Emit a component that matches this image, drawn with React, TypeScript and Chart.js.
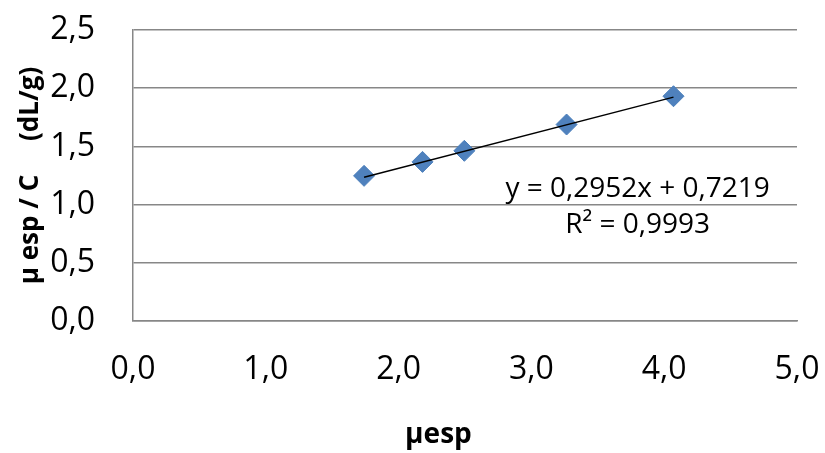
import React, { useEffect, useRef } from "react";
import { Chart, registerables } from "chart.js";

Chart.register(...registerables);

// ---- data ----
const xValues = [1.74, 2.18, 2.495, 3.265, 4.07];
const yValues = [1.247, 1.367, 1.462, 1.688, 1.931];
const trendSlope = 0.2952;
const trendIntercept = 0.7219;
const equationLabel = "y = 0,2952x + 0,7219";
const r2Label = "R² = 0,9993";
const xTitle = "μesp";
const yTitle = "μ esp / C     (dL/g)";
const xTickRange = [0, 5, 1];
const yTickRange = [0, 2.5, 0.5];

const FONT = "'Open Sans', sans-serif";
const GRID = "#878787";

const fmt = (v: number) => Number(v).toFixed(1).replace(".", ",");

const labelPlugin = {
  id: "trendLabel",
  afterDatasetsDraw(chart: any) {
    const { ctx, scales } = chart;
    const x = scales.x;
    const y = scales.y;
    ctx.save();
    ctx.font = `28px ${FONT}`;
    ctx.fillStyle = "#000";
    ctx.textAlign = "center";
    ctx.textBaseline = "alphabetic";
    ctx.fillText(equationLabel, x.getPixelForValue(3.8), y.getPixelForValue(1.064));
    ctx.fillText(r2Label, x.getPixelForValue(3.8), y.getPixelForValue(0.755));
    // x-axis title (offset left of the plot centre, as in the reference)
    ctx.font = `bold 28px ${FONT}`;
    ctx.fillText(xTitle, x.getPixelForValue(2.3), 443);
    ctx.restore();
  },
};

export default function App() {
  const ref = useRef<HTMLCanvasElement | null>(null);

  useEffect(() => {
    document.body.style.margin = "0";
    if (!ref.current) return;
    const points = xValues.map((x, i) => ({ x, y: yValues[i] }));
    const xMin = Math.min(...xValues);
    const xMax = Math.max(...xValues);
    const trend = [
      { x: xMin, y: trendSlope * xMin + trendIntercept },
      { x: xMax, y: trendSlope * xMax + trendIntercept },
    ];
    const chart = new Chart(ref.current, {
      type: "scatter",
      data: {
        datasets: [
          {
            type: "line",
            data: trend,
            borderColor: "#000",
            borderWidth: 1.5,
            pointRadius: 0,
            fill: false,
            order: 0,
          } as any,
          {
            data: points,
            pointStyle: "rectRot",
            pointRadius: 10.5,
            backgroundColor: "#4F81BD",
            borderColor: "#4A7EBB",
            borderWidth: 1,
            order: 1,
          },
        ],
      },
      options: {
        responsive: false,
        animation: false,
        layout: { autoPadding: false, padding: { top: 30, right: 28, left: 0, bottom: 0 } },
        plugins: { legend: { display: false }, tooltip: { enabled: false } },
        scales: {
          x: {
            type: "linear",
            min: xTickRange[0],
            max: xTickRange[1],
            afterFit: (s: any) => {
              s.height = 132;
              s.paddingLeft = 0;
              s.paddingRight = 0;
            },
            ticks: {
              stepSize: xTickRange[2],
              callback: (v: any) => fmt(v),
              font: { family: FONT, size: 32 },
              color: "#000",
              padding: 30,
            },
            grid: { display: false, drawTicks: false },
            border: { display: true, color: GRID, width: 1.5 },
            title: { display: false },
          },
          y: {
            type: "linear",
            min: yTickRange[0],
            max: yTickRange[1],
            afterFit: (s: any) => {
              s.width = 133;
              s.paddingTop = 0;
              s.paddingBottom = 0;
            },
            ticks: {
              stepSize: yTickRange[2],
              callback: (v: any) => fmt(v),
              font: { family: FONT, size: 32 },
              color: "#000",
              padding: 38,
            },
            grid: { color: GRID, lineWidth: 1.5, drawTicks: false },
            border: { display: true, color: GRID, width: 1.5 },
            title: {
              display: true,
              text: yTitle,
              font: { family: FONT, size: 26, weight: "bold" },
              color: "#000",
              padding: { top: 15, bottom: 0 },
            },
          },
        },
      },
      plugins: [labelPlugin],
    });
    return () => chart.destroy();
  }, []);

  return (
    <div style={{ position: "fixed", left: 0, top: 0, width: 825, height: 453 }}>
      <canvas ref={ref} width={825} height={453} style={{ display: "block" }} />
    </div>
  );
}
